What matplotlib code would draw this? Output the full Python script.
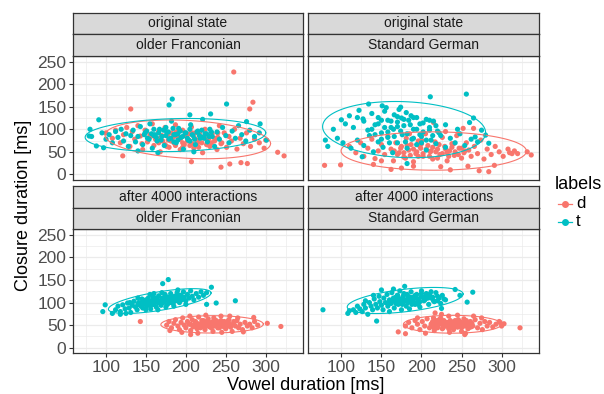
import numpy as np
import matplotlib
matplotlib.use("Agg")
import matplotlib.pyplot as plt
from matplotlib.lines import Line2D

# ---------------- data ----------------
labels = ["d", "t"]
row_labels = ["original state", "after 4000 interactions"]
col_labels = ["older Franconian", "Standard German"]
x_ticks = [100, 150, 200, 250, 300]
y_ticks = [0, 50, 100, 150, 200, 250]

# original state / older Franconian
tl_d = [(131,145),(284,160),(280,145),(260,227),(315,49),(323,41),(244,16),(255,23),(269,26),(277,24),(207,28),(121,41),(300,76),
        (100,92),(108,80),(112,98),(118,70),(122,88),(126,104),(130,62),(133,95),(136,78),(140,108),(143,85),(146,55),(149,98),
        (152,72),(155,88),(158,112),(160,64),(163,80),(166,95),(168,50),(171,74),(174,104),(176,86),(179,60),(182,92),(185,70),
        (187,110),(190,82),(193,55),(196,98),(198,66),(201,88),(204,76),(207,105),(210,58),(212,92),(215,70),(218,84),(221,48),
        (224,100),(227,75),(230,62),(233,90),(236,80),(239,55),(242,108),(245,70),(248,92),(251,60),(254,84),(257,74),(261,100),
        (264,56),(268,80),(272,68),(276,92),(281,62),(286,78),(292,70),(298,58),(145,68),(178,76),(205,64),(232,70),(188,94),
        (162,78),(166,70),(170,86),(174,66),(178,90),(181,74),(184,82),(187,64),(190,94),(193,78),(196,70),(199,86),(202,74),
        (205,90),(208,68),(211,80),(214,76),(217,92),(220,70),(223,84),(226,66),(229,80),(232,88),(236,74),(240,82),(244,68),
        (168,80),(188,86),(208,92),(228,72),(176,62),(216,60),(196,60),(240,92),(156,84)]
tl_t = [(183,167),(179,154),(251,156),(91,121),(293,112),(231,134),(205,132),(276,117),(80,100),(79,85),(82,84),(88,63),(97,59),(301,76),
        (95,92),(100,78),(104,88),(108,70),(112,95),(115,82),(119,100),(122,74),(125,90),(128,62),(131,86),(134,98),(137,72),
        (140,84),(143,106),(146,66),(149,92),(152,80),(155,112),(158,58),(161,88),(164,74),(167,100),(170,84),(173,64),(176,94),
        (179,78),(182,118),(185,88),(188,70),(191,102),(194,82),(197,56),(200,92),(203,76),(206,110),(209,86),(212,66),(215,96),
        (218,80),(221,122),(224,90),(227,72),(230,100),(233,84),(236,62),(239,94),(242,78),(246,104),(250,86),(254,70),(258,96),
        (262,80),(266,108),(270,88),(275,74),(280,98),(286,84),(292,92),(165,48),(210,50),(140,52),
        (148,88),(151,96),(154,78),(157,90),(160,100),(163,82),(166,92),(169,76),(172,98),(175,86),(178,94),(181,80),(184,102),
        (187,88),(190,76),(193,96),(196,84),(199,92),(202,80),(205,100),(208,88),(211,78),(214,94),(217,86),(220,98),(223,80),
        (226,90),(229,84),(232,94),(160,86),(175,104),(190,90),(205,74),(220,82),(185,72)]

# original state / Standard German
tr_d = [(79,20),(99,21),(332,50),(337,43),(320,46),(316,52),(310,48),(252,102),(265,102),(215,115),(162,11),(175,14),(224,17),(236,10),
        (272,8),(291,20),(284,6),(258,18),(140,22),(190,18),
        (110,62),(118,48),(124,70),(128,40),(133,58),(138,78),(142,35),(146,52),(150,66),(154,44),(158,84),(162,56),(165,30),
        (168,70),(172,48),(175,62),(178,38),(181,80),(184,54),(187,66),(190,28),(193,46),(196,74),(199,58),(202,40),(205,90),
        (208,64),(211,50),(214,34),(217,72),(220,56),(223,44),(226,82),(229,62),(232,30),(235,52),(238,68),(241,42),(244,86),
        (247,58),(250,36),(253,48),(256,70),(259,54),(262,40),(266,62),(270,46),(274,76),(278,34),(282,56),(287,44),(292,62),
        (297,50),(302,40),(308,56),(313,46),(200,76),(185,90),(230,95),(150,30),
        (166,52),(170,44),(174,58),(178,48),(182,64),(186,42),(190,56),(194,50),(198,62),(202,46),(206,56),(210,40),(214,60),
        (218,50),(222,66),(226,46),(230,56),(234,40),(238,60),(242,50),(246,44),(250,58),(254,52),(180,36),(200,68),(220,36),
        (240,68),(196,40),(232,48),(212,52)]
tr_t = [(211,172),(256,178),(134,156),(151,152),(156,148),(174,149),(100,121),(127,123),(120,126),(80,76),(83,62),(265,125),(267,83),
        (280,87),(284,69),(182,24),(126,39),(260,115),(275,98),
        (105,112),(110,130),(115,104),(122,142),(128,118),(133,98),(138,135),(142,110),(146,126),(150,92),(154,140),(158,120),
        (162,104),(166,132),(170,116),(172,144),(175,125),(178,108),(181,137),(184,120),(187,130),(190,100),(194,126),(198,112),
        (202,94),(206,122),(210,104),(215,118),(220,96),
        (95,80),(102,70),(112,58),(120,76),(128,64),(135,86),(140,50),(146,72),(152,60),(158,82),(164,48),(170,70),(176,88),
        (182,58),(188,78),(194,66),(200,84),(206,54),(212,76),(218,68),(224,86),(230,60),(236,80),(242,70),(248,90),(254,64),
        (262,78),(270,72),(90,100),(230,110),(245,100),
        (138,100),(142,88),(146,112),(150,78),(154,104),(158,94),(162,118),(166,84),(170,106),(174,96),(178,122),(182,90),
        (186,110),(190,80),(194,100),(198,88),(202,114),(206,76),(210,98),(214,86),(218,108),(222,92),(160,70),(180,72),
        (200,70),(170,128),(190,126),(150,120),(210,120),(165,100)]

# after 4000 interactions / older Franconian
bl_d = [(143,58),(206,29),(302,54),(319,47),(285,67),(272,35),(180,38),
        (176,50),(179,58),(182,44),(185,54),(187,62),(190,48),(192,40),(194,56),(196,66),(198,50),(200,44),(202,58),(204,52),
        (206,38),(208,62),(210,48),(212,56),(214,42),(216,68),(218,52),(220,46),(222,60),(224,40),(226,54),(228,64),(230,48),
        (232,56),(234,36),(236,50),(238,60),(240,44),(242,54),(244,70),(246,48),(248,58),(250,42),(252,52),(254,62),(256,46),
        (258,36),(260,54),(262,48),(264,60),(266,44),(268,52),(271,40),(274,56),(277,48),(280,52),(283,44),(286,58),(290,50),
        (225,72),(205,70),(245,34),(265,66),(195,34),(215,32),(235,66),(255,70),
        (206,52),(209,46),(212,58),(215,50),(218,44),(221,56),(224,50),(227,60),(230,46),(233,54),(236,48),(239,58),(242,44),
        (245,52),(248,56),(251,48),(254,54),(257,50),(260,58),(214,54),(226,48),(238,52),(250,50),(220,60),(244,60),(232,44),
        (210,50),(256,46),(228,54),(240,50),(218,52),(248,46),(234,58),(222,48),(252,58)]
bl_t = [(178,151),(171,142),(232,134),(262,104),(238,99),(226,96),(96,80),(99,95),(108,76),(118,74),
        (112,84),(115,92),(118,80),(121,95),(124,86),(127,99),(129,88),(131,78),(133,94),(135,103),(137,90),(139,84),(141,100),
        (143,94),(145,108),(146,88),(148,98),(150,104),(151,92),(153,110),(154,97),(156,86),(157,103),(159,112),(160,96),
        (162,106),(163,90),(165,100),(166,115),(168,104),(169,94),(171,110),(172,100),(174,118),(175,106),(177,96),(178,112),
        (180,102),(181,120),(183,108),(184,98),(186,114),(187,104),(189,122),(190,110),(192,100),(193,116),(195,106),(197,124),
        (198,112),(200,104),(202,118),(204,110),(206,126),(208,114),(210,106),(213,120),(216,112),(219,124),(222,116),(226,122),
        (130,100),(140,110),(155,118),(165,84),(175,90),(185,92),(150,84),(125,76),(200,96),(170,122),(190,128),(160,120),
        (140,96),(143,98),(146,100),(149,97),(152,102),(155,99),(158,104),(161,101),(164,106),(167,103),(170,108),(173,105),
        (176,110),(179,107),(182,112),(185,109),(188,114),(191,111),(194,116),(144,92),(150,106),(156,94),(162,110),(168,98),
        (174,114),(180,100),(186,104),(192,106),(160,96),(172,102)]

# after 4000 interactions / Standard German
br_d = [(323,44),(171,35),(180,31),(254,29),(217,77),(298,56),(303,53),
        (180,48),(184,56),(188,44),(192,60),(195,52),(198,40),(201,58),(204,48),(207,64),(210,44),(213,54),(216,38),(218,60),
        (221,50),(224,66),(226,42),(229,56),(232,48),(234,70),(237,52),(240,40),(242,60),(245,46),(248,56),(250,36),(253,64),
        (256,50),(258,42),(261,58),(264,48),(267,62),(270,44),(273,54),(276,40),(279,58),(282,48),(285,56),(289,46),(293,52),
        (297,58),(300,48),(205,32),(225,74),(245,72),(265,70),(215,66),(255,32),(235,34),(275,66),(195,66),
        (212,52),(215,46),(218,56),(221,50),(224,58),(227,44),(230,54),(233,48),(236,60),(239,50),(242,54),(245,46),(248,58),
        (251,52),(254,48),(257,56),(260,50),(263,54),(214,58),(220,44),(226,52),(232,56),(238,46),(244,52),(250,44),(256,60),
        (262,46),(217,50),(223,54),(229,48),(235,52),(241,58),(247,50),(253,56),(259,44),(228,60),(240,44),(222,62),(246,62),
        (234,42),(216,54),(252,50),(230,50),(238,56),(244,48)]
br_t = [(77,84),(242,129),(248,116),(264,123),(257,101),(144,59),(230,106),(179,136),(110,82),(108,76),(225,87),
        (115,84),(118,78),(120,92),(123,86),(126,80),(128,96),(130,88),(133,74),(135,100),(137,92),(139,84),(141,108),(143,96),
        (145,88),(147,114),(148,102),(150,94),(152,84),(153,110),(155,100),(157,118),(158,92),(160,106),(162,98),(163,122),
        (165,110),(166,88),(168,102),(170,116),(171,96),(173,126),(175,108),(176,98),(178,120),(180,104),(181,92),(183,114),
        (185,106),(187,124),(189,100),(190,112),(192,96),(194,118),(196,108),(198,90),(200,114),(203,104),(206,120),(209,96),
        (212,110),(216,102),(220,114),(224,98),(228,108),(150,128),(165,130),(185,86),(160,80),(140,116),(130,104),(200,126),
        (175,84),
        (165,104),(168,98),(171,110),(174,102),(177,114),(180,106),(183,100),(186,112),(189,104),(192,116),(195,108),(198,102),
        (201,112),(204,106),(170,116),(176,96),(182,118),(188,96),(194,100),(200,120),(172,106),(185,108),(178,102),(190,108),
        (160,100),(206,114),(196,96),(168,112),
        (208,110),(210,118),(214,112),(218,122),(222,110),(215,104),(212,124),(205,108),(220,104),(226,116)]

panels = [[(tl_d, tl_t), (tr_d, tr_t)], [(bl_d, bl_t), (br_d, br_t)]]

# ---------------- style ----------------
colors = {"d": "#F8766D", "t": "#00BFC4"}
FONT = "Liberation Sans"
W, H = 604, 394
plt.rcParams["font.family"] = [FONT, "DejaVu Sans"]

fig = plt.figure(figsize=(W / 100, H / 100), dpi=100)
fig.patch.set_facecolor("white")


def rect(x0, y0, x1, y1):
    return [x0 / W, 1 - y1 / H, (x1 - x0) / W, (y1 - y0) / H]


def trob_ellipse(pts, level=0.95, nu=5, iters=60, seg=120):
    X = np.asarray(pts, float)
    n, p = X.shape
    loc = X.mean(0)
    cov = np.cov(X.T)
    for _ in range(iters):
        d = X - loc
        q = np.einsum("ij,jk,ik->i", d, np.linalg.inv(cov), d)
        w = (nu + p) / (nu + q)
        loc = (w[:, None] * X).sum(0) / w.sum()
        d = X - loc
        cov = (w[:, None] * d).T @ d / n
    dfd = n - 1
    fq = dfd / 2 * ((1 - level) ** (-2 / dfd) - 1)
    radius = np.sqrt(2 * fq)
    ch = np.linalg.cholesky(cov).T
    ang = np.linspace(0, 2 * np.pi, seg + 1)
    circ = np.column_stack([np.cos(ang), np.sin(ang)])
    e = loc + radius * circ @ ch
    return e[:, 0], e[:, 1]


col_x = [(73, 303), (308.3, 539)]
row_y = [(56, 180), (229.3, 353.3)]
strip_y = [(12.7, 34.2, 56), (186.0, 207.7, 229.3)]
border = "#333333"

for r in range(2):
    for c in range(2):
        x0, x1 = col_x[c]
        y0, y1 = row_y[r]
        ax = fig.add_axes(rect(x0, y0, x1, y1))
        ax.set_xlim(58.7, 346.7)
        ax.set_ylim(-12.5, 262.5)
        ax.set_xticks(x_ticks)
        ax.set_yticks(y_ticks)
        ax.set_xticks([75, 125, 175, 225, 275, 325], minor=True)
        ax.set_yticks([25, 75, 125, 175, 225], minor=True)
        ax.grid(True, which="major", color="#EBEBEB", lw=0.9, zorder=0)
        ax.grid(True, which="minor", color="#EBEBEB", lw=0.5, zorder=0)
        ax.set_axisbelow(True)
        for s in ax.spines.values():
            s.set_color(border)
            s.set_linewidth(0.9)
            s.set_zorder(5)
        ax.tick_params(which="minor", length=0)
        ax.tick_params(which="major", length=3.2, width=0.8, color=border,
                       labelsize=12.5, labelcolor="#4D4D4D", pad=1.5)
        ax.tick_params(axis="x", bottom=(r == 1), labelbottom=(r == 1))
        ax.tick_params(axis="y", left=(c == 0), labelleft=(c == 0))
        for lab in ax.get_xticklabels() + ax.get_yticklabels():
            lab.set_family(FONT)

        d_pts, t_pts = panels[r][c]
        for name, pts in (("d", d_pts), ("t", t_pts)):
            arr = np.asarray(pts, float)
            ax.scatter(arr[:, 0], arr[:, 1], s=14, color=colors[name],
                       edgecolors="none", zorder=3)
        for name, pts in (("d", d_pts), ("t", t_pts)):
            ex, ey = trob_ellipse(pts)
            ax.plot(ex, ey, color=colors[name], lw=0.8, zorder=4)

        # strips
        s0, s1, s2 = strip_y[r]
        for (ya, yb, txt) in ((s0, s1, row_labels[r]), (s1, s2, col_labels[c])):
            sa = fig.add_axes(rect(x0, ya, x1, yb))
            sa.set_facecolor("#D9D9D9")
            sa.set_xticks([])
            sa.set_yticks([])
            for s in sa.spines.values():
                s.set_color(border)
                s.set_linewidth(0.9)
            sa.text(0.5, 0.5, txt, ha="center", va="center", fontsize=10,
                    color="#1A1A1A", transform=sa.transAxes, family=FONT)

# axis titles
fig.text(24 / W, 1 - 205 / H, "Closure duration [ms]", rotation=90,
         ha="center", va="center", fontsize=13, color="black", family=FONT)
fig.text(306 / W, 1 - 385 / H, "Vowel duration [ms]", ha="center",
         va="center", fontsize=13, color="black", family=FONT)

# legend
fig.text(555 / W, 1 - 184 / H, "labels", ha="left", va="center",
         fontsize=13, color="black", family=FONT)
for i, name in enumerate(labels):
    yy = 1 - (204 + 18 * i) / H
    fig.add_artist(Line2D([558 / W, 572 / W], [yy, yy], color=colors[name],
                          lw=0.9, transform=fig.transFigure))
    fig.add_artist(Line2D([565 / W], [yy], marker="o", markersize=4,
                          color=colors[name], lw=0, transform=fig.transFigure))
    fig.text(576 / W, yy, name, ha="left", va="center", fontsize=12,
             color="black", family=FONT)

fig.savefig("out.png", dpi=100, facecolor="white")
